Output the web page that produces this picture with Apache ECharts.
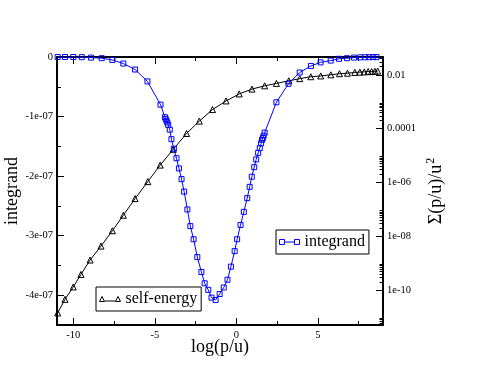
<!DOCTYPE html>
<html>
<head>
<meta charset="utf-8">
<script src="https://cdn.jsdelivr.net/npm/echarts@6/dist/echarts.min.js"></script>
<style>
html, body { margin: 0; padding: 0; background: #fff; }
#chart { width: 495px; height: 383px; }
</style>
</head>
<body>
<div id="chart"></div>
<script>
// integrand (left axis, units of 1e-7)
var intX = [-10.96,-10.51,-10.0,-9.48,-8.91,-8.26,-7.60,-6.93,-6.21,-5.45,-4.65,-4.38,-4.33,-4.28,-4.23,
    -4.18,-4.08,-3.98,-3.83,-3.67,-3.52,-3.36,-3.20,-3.00,-2.82,-2.62,-2.39,-2.14,-1.94,-1.72,
    -1.52,-1.27,-1.02,-0.77,-0.54,-0.33,-0.10,0.05,0.26,0.46,0.67,0.82,0.95,1.10,1.22,
    1.34,1.44,1.52,1.58,1.63,1.68,1.74,2.46,3.20,3.89,4.58,5.17,5.79,6.30,6.79,
    7.22,7.60,7.91,8.16,8.40,8.60];
var intY = [0,0,0,-0.003,-0.01,-0.02,-0.05,-0.11,-0.21,-0.41,-0.80,-1.01,-1.04,-1.07,-1.10,
    -1.14,-1.22,-1.38,-1.54,-1.70,-1.87,-2.05,-2.26,-2.56,-2.84,-3.06,-3.36,-3.61,-3.80,-3.91,
    -4.04,-4.08,-3.98,-3.87,-3.74,-3.52,-3.26,-3.06,-2.82,-2.60,-2.37,-2.18,-2.01,-1.85,-1.72,
    -1.61,-1.53,-1.45,-1.39,-1.36,-1.32,-1.27,-0.76,-0.45,-0.26,-0.15,-0.09,-0.06,-0.03,-0.02,
    -0.01,-0.005,-0.004,-0.003,-0.002,-0.002];

// self-energy (right log axis)
var seX = [-10.96,-10.51,-10.0,-9.53,-8.97,-8.30,-7.60,-6.93,-6.21,-5.43,-4.67,-3.87,-3.05,-2.27,-1.46,
    -0.63,0.18,0.96,1.74,2.46,3.22,3.89,4.57,5.18,5.80,6.33,6.82,7.27,7.58,7.85,8.09,8.30,8.50,8.67];
var seY = [1.4e-11,4.5e-11,1.3e-10,3.8e-10,1.3e-9,4.3e-9,1.6e-8,6.0e-8,2.5e-7,1.07e-6,4.4e-6,1.7e-5,6.6e-5,1.9e-4,5.1e-4,
    1.07e-3,1.95e-3,2.95e-3,3.9e-3,4.8e-3,6.0e-3,7.2e-3,8.5e-3,9.1e-3,1.0e-2,1.1e-2,1.15e-2,1.23e-2,1.26e-2,1.29e-2,1.32e-2,1.32e-2,1.35e-2,1.38e-2];

// ticks
var xMajor = [-10, -5, 0, 5];
var xMinor = [-7.5, -2.5, 2.5, 7.5];
var leftMajor = [0, -1, -2, -3, -4];
var leftLabels = ['0', '-1e-07', '-2e-07', '-3e-07', '-4e-07'];
var leftMinor = [-0.5, -1.5, -2.5, -3.5];
var rightMajor = [-2, -4, -6, -8, -10];
var rightLabels = ['0.01', '0.0001', '1e-06', '1e-08', '1e-10'];

var X_MIN = -11, X_MAX = 9;
var L_MIN = -4.5e-7, L_MAX = 0;
var R_MIN = 5e-12, R_MAX = 0.046;

var FONT = "'Liberation Serif', 'DejaVu Serif', serif";
var BLUE = '#0000ff';

var rMinLog = Math.log10(R_MIN), rMaxLog = Math.log10(R_MAX);
var rightMinor = [];
[-12, -10, -8, -6, -4, -2].forEach(function (e) {
    for (var k = 2; k <= 9; k++) {
        var v = e + Math.log10(k);
        if (v > rMinLog && v < rMaxLog) rightMinor.push(v);
    }
});

function pickLabel(vals, labels, v) {
    for (var i = 0; i < vals.length; i++) {
        if (Math.abs(vals[i] - v) < 1e-6) return labels[i];
    }
    return '';
}

var labelStyle = { color: '#000', fontSize: 10.5, fontFamily: FONT };
var titleStyle = { color: '#000', fontSize: 18, fontFamily: FONT };
var lineOn = { show: true, onZero: false, lineStyle: { color: '#000', width: 2 } };
var lineOff = { show: false, onZero: false };

function ticks(vals, len) {
    return { show: true, inside: true, length: len, customValues: vals, lineStyle: { color: '#000', width: 1 } };
}

var intData = intX.map(function (x, i) { return [x, intY[i] * 1e-7]; });
var seData = seX.map(function (x, i) { return [x, seY[i]]; });

var myChart = echarts.init(document.getElementById('chart'));

var option = {
    animation: false,
    backgroundColor: '#fff',
    grid: { left: 57, right: 112, top: 57, bottom: 58, containLabel: false, outerBoundsMode: 'none' },
    legend: [
        {
            data: ['self-energy'], left: 96, top: 287, orient: 'horizontal',
            borderColor: '#000', borderWidth: 1, borderRadius: 0, padding: [4, 4, 4, 3],
            selectedMode: false, itemWidth: 21, itemHeight: 5, itemGap: 4,
            icon: 'path://M2.5,0L5,5H0ZM5,4.5H16M18.5,0L21,5H16Z',
            itemStyle: { color: 'rgba(0,0,0,0)', borderColor: '#000', borderWidth: 1 },
            lineStyle: { width: 0 },
            textStyle: { color: '#000', fontSize: 16, fontFamily: FONT, padding: [0, 0, 0, 0] }
        },
        {
            data: ['integrand'], left: 276, top: 230, orient: 'horizontal',
            borderColor: '#000', borderWidth: 1, borderRadius: 0, padding: [4, 4, 4, 3],
            selectedMode: false, itemWidth: 20, itemHeight: 5, itemGap: 4,
            icon: 'path://M0,0H5V5H0ZM5,2.5H15M15,0H20V5H15Z',
            itemStyle: { color: 'rgba(0,0,0,0)', borderColor: BLUE, borderWidth: 1 },
            lineStyle: { width: 0 },
            textStyle: { color: '#000', fontSize: 16, fontFamily: FONT, padding: [0, 0, 0, 0] }
        }
    ],
    xAxis: [
        {
            type: 'value', position: 'bottom', min: X_MIN, max: X_MAX,
            axisLine: lineOn, axisTick: ticks(xMajor, 7),
            axisLabel: Object.assign({ customValues: xMajor, margin: 5 }, labelStyle),
            splitLine: { show: false },
            name: 'log(p/u)', nameLocation: 'middle', nameGap: 13, nameMoveOverlap: false,
            nameTextStyle: titleStyle
        },
        {
            type: 'value', position: 'bottom', min: X_MIN, max: X_MAX,
            axisLine: lineOff, axisTick: ticks(xMinor, 4), axisLabel: { show: false }, splitLine: { show: false }
        },
        {
            type: 'value', position: 'top', min: X_MIN, max: X_MAX,
            axisLine: lineOn, axisTick: ticks(xMajor, 7), axisLabel: { show: false }, splitLine: { show: false }
        },
        {
            type: 'value', position: 'top', min: X_MIN, max: X_MAX,
            axisLine: lineOff, axisTick: ticks(xMinor, 4), axisLabel: { show: false }, splitLine: { show: false }
        }
    ],
    yAxis: [
        {
            type: 'value', position: 'left', min: L_MIN, max: L_MAX,
            axisLine: lineOn,
            axisTick: ticks(leftMajor.map(function (v) { return v * 1e-7; }), 7),
            axisLabel: Object.assign({
                customValues: leftMajor.map(function (v) { return v * 1e-7; }),
                margin: 4,
                formatter: function (v) { return pickLabel(leftMajor, leftLabels, v / 1e-7); }
            }, labelStyle),
            splitLine: { show: false },
            name: 'integrand', nameLocation: 'middle', nameGap: 36, nameMoveOverlap: false,
            nameTextStyle: titleStyle
        },
        {
            type: 'value', position: 'left', min: L_MIN, max: L_MAX,
            axisLine: lineOff,
            axisTick: ticks(leftMinor.map(function (v) { return v * 1e-7; }), 4),
            axisLabel: { show: false }, splitLine: { show: false }
        },
        {
            type: 'log', position: 'right', min: R_MIN, max: R_MAX,
            axisLine: lineOn, axisTick: { show: false }, axisLabel: { show: false },
            splitLine: { show: false }, minorTick: { show: false },
            name: '{a|Σ(p/u)/u}{s|2}', nameLocation: 'middle', nameGap: 42, nameMoveOverlap: false,
            nameTextStyle: {
                color: '#000', fontFamily: FONT,
                rich: {
                    a: { fontSize: 18, fontFamily: FONT, color: '#000', lineHeight: 20, verticalAlign: 'bottom' },
                    s: { fontSize: 12, fontFamily: FONT, color: '#000', lineHeight: 12, verticalAlign: 'top', padding: [0, 0, 0, 1] }
                }
            }
        },
        {
            type: 'value', position: 'right', min: rMinLog, max: rMaxLog,
            axisLine: lineOff, axisTick: ticks(rightMajor, 7),
            axisLabel: Object.assign({
                customValues: rightMajor, margin: 4,
                formatter: function (v) { return pickLabel(rightMajor, rightLabels, v); }
            }, labelStyle),
            splitLine: { show: false }
        },
        {
            type: 'value', position: 'right', min: rMinLog, max: rMaxLog,
            axisLine: lineOff, axisTick: ticks(rightMinor, 3.5),
            axisLabel: { show: false }, splitLine: { show: false }
        }
    ],
    series: [
        {
            name: 'integrand', type: 'line', xAxisIndex: 0, yAxisIndex: 0,
            data: intData, symbol: 'rect', symbolSize: 5, showSymbol: true,
            lineStyle: { color: BLUE, width: 1 },
            itemStyle: { color: 'rgba(0,0,0,0)', borderColor: BLUE, borderWidth: 1 },
            emphasis: { disabled: true }, z: 3
        },
        {
            name: 'self-energy', type: 'line', xAxisIndex: 0, yAxisIndex: 2,
            data: seData, symbol: 'triangle', symbolSize: 6, showSymbol: true,
            lineStyle: { color: '#000', width: 1 },
            itemStyle: { color: 'rgba(0,0,0,0)', borderColor: '#000', borderWidth: 1 },
            emphasis: { disabled: true }, z: 2
        }
    ]
};

myChart.setOption(option);
</script>
</body>
</html>
